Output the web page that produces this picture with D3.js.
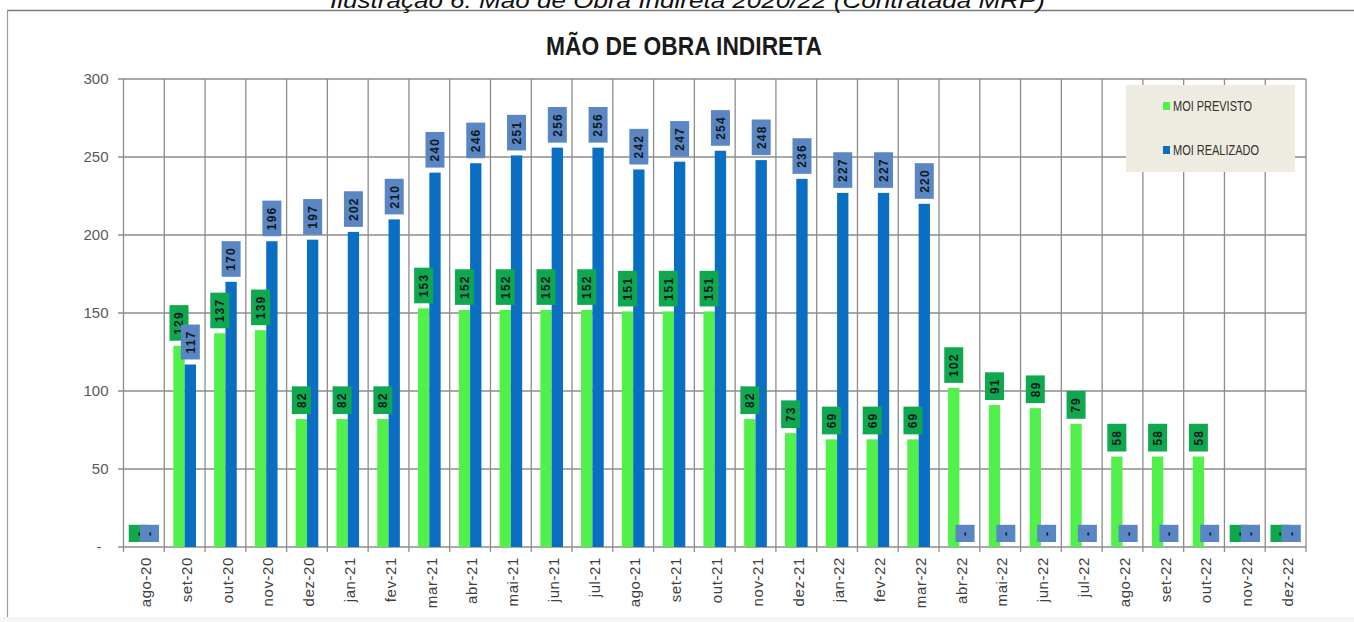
<!DOCTYPE html>
<html>
<head>
<meta charset="utf-8">
<script src="https://cdn.jsdelivr.net/npm/d3@7"></script>
<style>
  body { margin: 0; background: #fff; }
  svg text { font-family: "Liberation Sans Narrow", "Liberation Sans", sans-serif; }
</style>
</head>
<body>
<div class="box"></div>
<script>
// dados
const meses = ['ago-20','set-20','out-20','nov-20','dez-20','jan-21','fev-21','mar-21','abr-21','mai-21',
  'jun-21','jul-21','ago-21','set-21','out-21','nov-21','dez-21','jan-22','fev-22','mar-22',
  'abr-22','mai-22','jun-22','jul-22','ago-22','set-22','out-22','nov-22','dez-22']
const moiPrevisto = [0,129,137,139,82,82,82,153,152,152,152,152,151,151,151,82,73,69,69,69,102,91,89,79,58,58,58,0,0]
const moiRealizado = [0,117,170,196,197,202,210,240,246,251,256,256,242,247,254,248,236,227,227,220,0,0,0,0,0,0,0,0,0]
const yTicks = [0,50,100,150,200,250,300]
const series = ['MOI PREVISTO','MOI REALIZADO']

const W = 1354, H = 622
const svg = d3.select('.box')
  .append('svg')
  .attr('width', W)
  .attr('height', H)

// moldura da pagina
svg.append('line').attr('x1', 7).attr('x2', W).attr('y1', 10.5).attr('y2', 10.5)
  .attr('stroke', '#7a7a7a').attr('stroke-width', 1.5)
svg.append('line').attr('x1', 7.5).attr('x2', 7.5).attr('y1', 10).attr('y2', 617)
  .attr('stroke', '#9a9a9a').attr('stroke-width', 1.2)
svg.append('rect').attr('x', 0).attr('y', 617).attr('width', W).attr('height', 5).attr('fill', '#f6f6f6')

// legenda da ilustracao (cortada no topo)
svg.append('text')
  .attr('x', 330).attr('y', 8)
  .attr('textLength', 715)
  .attr('lengthAdjust', 'spacingAndGlyphs')
  .style('font-family', '"Liberation Sans", Arial, sans-serif')
  .style('font-style', 'italic')
  .style('font-size', '22px')
  .attr('fill', '#111')
  .text('Ilustração 6: Mão de Obra Indireta 2020/22 (Contratada MRP)')

// titulo
svg.append('text')
  .attr('x', 684).attr('y', 55)
  .attr('text-anchor', 'middle')
  .attr('textLength', 276)
  .attr('lengthAdjust', 'spacingAndGlyphs')
  .style('font-size', '25px')
  .style('font-weight', 'bold')
  .attr('fill', '#1a1a1a')
  .text('MÃO DE OBRA INDIRETA')

const x = d3.scaleBand()
  .domain(meses)
  .range([123.5, 1306])

const inner = d3.scaleBand()
  .domain(series)
  .range([0, x.bandwidth()])
  .paddingOuter(0.8)

const y = d3.scaleLinear()
  .domain([0, 300])
  .range([547, 79])

const colors = { 'MOI PREVISTO': '#52f04a', 'MOI REALIZADO': '#0a6fc2' }
const boxColors = { 'MOI PREVISTO': '#0fa84e', 'MOI REALIZADO': '#5a87c4' }
const gridColor = '#8c8c8c'

// grade horizontal
svg.append('g')
  .selectAll('line')
  .data(yTicks)
  .join('line')
  .attr('x1', 118).attr('x2', 1306)
  .attr('y1', d => y(d)).attr('y2', d => y(d))
  .attr('stroke', gridColor).attr('stroke-width', 1.3)

// grade vertical (limites das categorias)
const bounds = meses.map(m => x(m)).concat([x.range()[1]])
svg.append('g')
  .selectAll('line')
  .data(bounds)
  .join('line')
  .attr('x1', d => d).attr('x2', d => d)
  .attr('y1', y(300)).attr('y2', y(0) + 5)
  .attr('stroke', gridColor).attr('stroke-width', 1.3)

// eixo y
const groupY = svg.append('g').attr('transform', 'translate(123.5,0)')
groupY.call(d3.axisLeft(y).tickValues(yTicks).tickSize(0).tickPadding(15)
  .tickFormat(d => d === 0 ? '-' : d))
groupY.select('.domain').remove()
groupY.selectAll('text')
  .style('font-size', '15px')
  .attr('fill', '#595959')
  .attr('dx', d => d === 0 ? -7 : 0)

// eixo x
const groupX = svg.append('g').attr('transform', `translate(0, ${y(0)})`)
groupX.call(d3.axisBottom(x).tickSize(0))
groupX.select('.domain').remove()
groupX.selectAll('text')
  .attr('transform', 'rotate(-90)')
  .attr('text-anchor', 'end')
  .attr('x', -10)
  .attr('y', 2)
  .attr('dy', '0.35em')
  .style('font-size', '15px')
  .style('letter-spacing', '0.6px')
  .attr('fill', '#404040')

// dados por serie
const data = series.map((s, i) => ({
  key: s,
  values: meses.map((m, j) => ({ mes: m, v: i === 0 ? moiPrevisto[j] : moiRealizado[j], key: s }))
}))

// barras
const gBars = svg.append('g')
data.forEach(sr => {
  gBars.append('g')
    .selectAll('rect')
    .data(sr.values)
    .join('rect')
    .attr('x', d => x(d.mes) + inner(d.key))
    .attr('width', inner.bandwidth())
    .attr('y', d => y(d.v))
    .attr('height', d => y(0) - y(d.v))
    .attr('fill', colors[sr.key])
})

// rotulos de dados
data.forEach(sr => {
  const g = svg.append('g')
  const lab = g.selectAll('g')
    .data(sr.values)
    .join('g')
    .attr('transform', d => `translate(${x(d.mes) + inner(d.key) + inner.bandwidth() / 2}, ${y(d.v) - 5})`)
  const rects = lab.append('rect').attr('fill', boxColors[sr.key])
  const txt = lab.append('text')
    .attr('transform', 'rotate(-90)')
    .attr('dy', '0.36em')
    .style('font-size', '12px')
    .style('font-weight', 'bold')
    .style('letter-spacing', '1.2px')
    .attr('fill', '#101820')
    .text(d => d.v === 0 ? '-' : d.v)
  txt.each(function (d) {
    const len = this.getComputedTextLength()
    d.h = len + 12
  })
  txt.attr('x', d => 6)
  rects.attr('x', -9.5).attr('width', 19)
    .attr('y', d => -d.h).attr('height', d => d.h)
})

// legenda
const leg = svg.append('g')
leg.append('rect')
  .attr('x', 1126).attr('y', 85).attr('width', 169).attr('height', 87)
  .attr('fill', '#eeece1')
series.forEach((s, i) => {
  const yy = i === 0 ? 106 : 150
  leg.append('rect')
    .attr('x', 1163).attr('y', yy - 4).attr('width', 7).attr('height', 8)
    .attr('fill', colors[s] === '#52f04a' ? '#52f04a' : '#0a6fc2')
  leg.append('text')
    .attr('x', 1173).attr('y', yy + 5)
    .attr('textLength', i === 0 ? 79 : 86)
    .attr('lengthAdjust', 'spacingAndGlyphs')
    .style('font-size', '14px')
    .attr('fill', '#303030')
    .text(s)
})
</script>
</body>
</html>
